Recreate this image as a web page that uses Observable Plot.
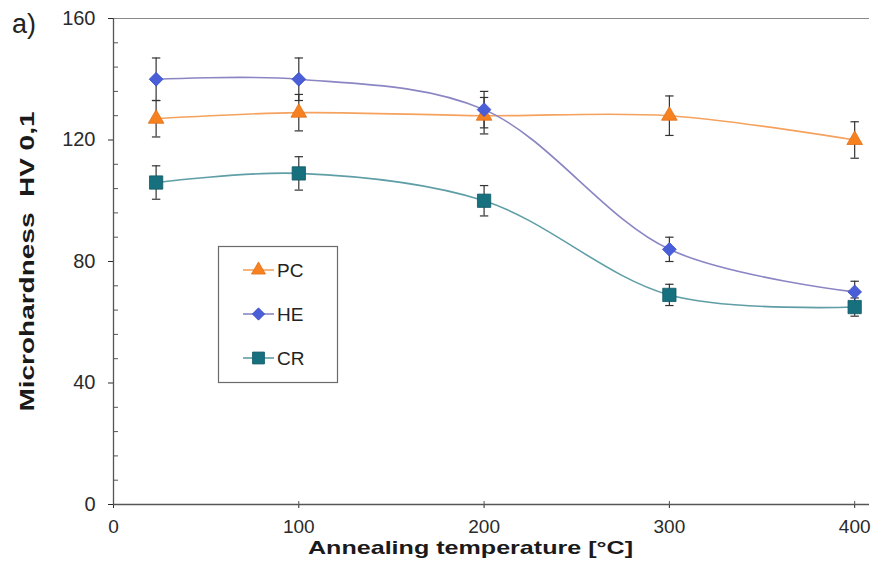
<!DOCTYPE html>
<html><head><meta charset="utf-8">
<script src="https://cdn.jsdelivr.net/npm/d3@7"></script>
<script src="https://cdn.jsdelivr.net/npm/@observablehq/plot@0.6"></script>
<style>
body{margin:0;background:#fff;}
#wrap{position:relative;width:885px;height:571px;font-family:"Liberation Sans",Arial,sans-serif;}
#wrap svg.overlay{position:absolute;left:0;top:0;pointer-events:none;}
</style></head><body><div id="wrap"></div>
<script>
// ---- data ----
const temperatures = [23, 100, 200, 300, 400];
const seriesNames = ["PC", "HE", "CR"];
const pcValues = [127, 129, 128, 128, 120];
const pcErrors = [6, 6, 6, 6.5, 6];
const heValues = [140, 140, 130, 84, 70];
const heErrors = [7, 7, 6, 4, 3.5];
const crValues = [106, 109, 100, 69, 65];
const crErrors = [5.5, 5.5, 5, 3.5, 3];
const xTicks = [0, 100, 200, 300, 400];
const yTicks = [0, 40, 80, 120, 160];
const yMinorTicks = [8, 16, 24, 32, 48, 56, 64, 72, 88, 96, 104, 112, 128, 136, 144, 152];
const xLabel = "Annealing temperature [°C]";
const yLabel = "Microhardness\u00a0\u00a0HV 0,1";
const panelLabel = "a)";

// ---- styles ----
const styles = {
  PC: {line: "#f5a25e", fill: "#f7811f", stroke: "#e0701a", symbol: "triangle", r: 5.8},
  HE: {line: "#8a86c4", fill: "#4a5ed8", stroke: "#3a4ec8", symbol: "diamond2", r: 6.2},
  CR: {line: "#5f9ea6", fill: "#17707e", stroke: "#0f5866", symbol: "square", r: 7.5}
};
const valuesBy = {PC: pcValues, HE: heValues, CR: crValues};
const errorsBy = {PC: pcErrors, HE: heErrors, CR: crErrors};

const rows = seriesNames.flatMap(s => temperatures.map((t, i) => ({
  series: s, t, v: valuesBy[s][i], lo: valuesBy[s][i] - errorsBy[s][i], hi: valuesBy[s][i] + errorsBy[s][i]
})));

const capSymbol = {draw(ctx, size) { const w = Math.sqrt(size); ctx.moveTo(-w, 0); ctx.lineTo(w, 0); }};
const capR = 4.2 / Math.sqrt(Math.PI);

const marks = [
  Plot.ruleY([160], {stroke: "#8a8a8a", strokeWidth: 1.2}),
  Plot.axisY(yTicks, {tickSize: 5, tickPadding: 13, fontSize: 20, label: null, color: "#2a2a2a"}),
  Plot.axisY(yMinorTicks, {tickSize: -5, tickFormat: () => "", label: null, color: "#555"}),
  Plot.axisX(xTicks, {tickSize: 4, tickPadding: 11, fontSize: 19, label: null, color: "#2a2a2a"}),
  Plot.axisX(xTicks, {tickSize: -3, tickFormat: () => "", label: null, color: "#555"}),
  Plot.ruleX([0], {stroke: "#555", strokeWidth: 1.3}),
  Plot.ruleY([0], {stroke: "#555", strokeWidth: 1.3}),
];
for (const s of seriesNames) {
  const d = rows.filter(r => r.series === s);
  const st = styles[s];
  marks.push(Plot.line(d, {x: "t", y: "v", stroke: st.line, strokeWidth: 1.6, curve: "catmull-rom"}));
}
for (const s of seriesNames) {
  const d = rows.filter(r => r.series === s);
  marks.push(Plot.ruleX(d, {x: "t", y1: "lo", y2: "hi", stroke: "#333", strokeWidth: 1.2}));
  marks.push(Plot.dot(d, {x: "t", y: "lo", symbol: capSymbol, r: capR, stroke: "#333", strokeWidth: 1.2}));
  marks.push(Plot.dot(d, {x: "t", y: "hi", symbol: capSymbol, r: capR, stroke: "#333", strokeWidth: 1.2}));
}
for (const s of seriesNames) {
  const d = rows.filter(r => r.series === s);
  const st = styles[s];
  marks.push(Plot.dot(d, {x: "t", y: "v", symbol: st.symbol, r: st.r, fill: st.fill, stroke: st.stroke, strokeWidth: 0.8}));
}
marks.push(Plot.text([xLabel], {text: d => d, frameAnchor: "bottom", dy: 49, dx: -21, textAnchor: "middle", fontWeight: "bold", fontSize: 19, fill: "#1a1a1a"}));
marks.push(Plot.text([yLabel], {text: d => d, frameAnchor: "left", dx: -86, dy: 0, textAnchor: "middle", rotate: -90, fontWeight: "bold", fontSize: 20, fill: "#1a1a1a"}));

const chart = Plot.plot({
  width: 885, height: 571,
  marginLeft: 113, marginRight: 16, marginTop: 18, marginBottom: 67,
  x: {domain: [0, 408]},
  y: {domain: [0, 160]},
  style: {fontFamily: '"Liberation Sans", Arial, sans-serif', background: "#fff", color: "#222"},
  marks
});
const wrap = document.getElementById("wrap");
wrap.appendChild(chart);

// stretch axis titles to match the reference's wide lettering
d3.select(chart).selectAll("text").filter(function() { return this.textContent === xLabel; })
  .attr("textLength", 325).attr("lengthAdjust", "spacingAndGlyphs");
d3.select(chart).selectAll("text").filter(function() { return this.textContent === yLabel; })
  .attr("textLength", 300).attr("lengthAdjust", "spacingAndGlyphs");

// ---- overlay: panel label and legend ----
const ov = d3.select(wrap).append("svg").attr("class", "overlay").attr("width", 885).attr("height", 571)
  .style("font-family", '"Liberation Sans", Arial, sans-serif');
ov.append("text").attr("x", 12).attr("y", 33).attr("font-size", 27).attr("fill", "#222").text(panelLabel);

const lg = ov.append("g");
lg.append("rect").attr("x", 218.5).attr("y", 246.5).attr("width", 119).attr("height", 136)
  .attr("fill", "#fff").attr("stroke", "#6a6a6a").attr("stroke-width", 1.2);
const symMap = {triangle: d3.symbolTriangle, diamond2: d3.symbolDiamond2, square: d3.symbolSquare};
seriesNames.forEach((s, i) => {
  const st = styles[s];
  const y = 270 + i * 44;
  lg.append("line").attr("x1", 243).attr("x2", 274).attr("y1", y).attr("y2", y)
    .attr("stroke", st.line).attr("stroke-width", 1.6);
  lg.append("path").attr("transform", `translate(258.5,${y})`)
    .attr("d", d3.symbol(symMap[st.symbol], Math.PI * st.r * st.r * 0.8)())
    .attr("fill", st.fill).attr("stroke", st.stroke).attr("stroke-width", 0.8);
  lg.append("text").attr("x", 277).attr("y", y).attr("dy", "0.36em").attr("font-size", 19)
    .attr("fill", "#222").text(s);
});
</script></body></html>
